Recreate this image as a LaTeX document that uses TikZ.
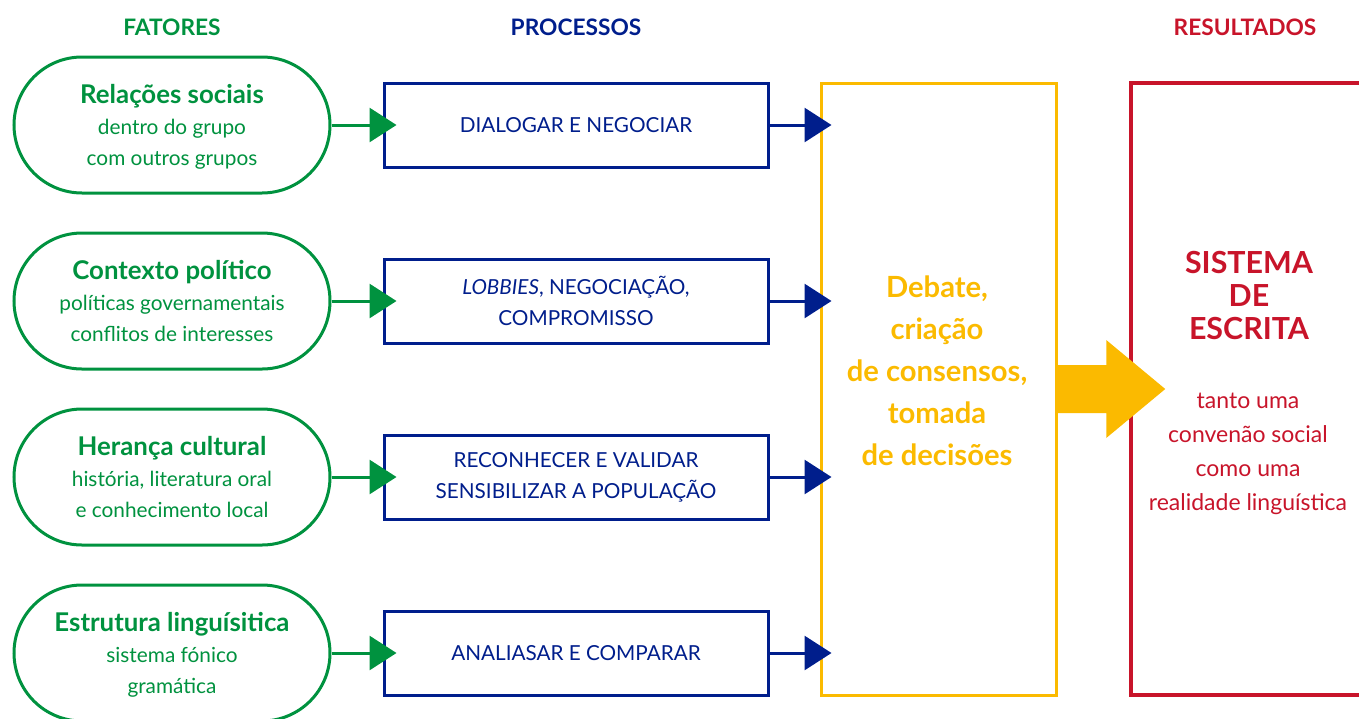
\documentclass[tikz,border=0pt]{standalone}
\usepackage{fontspec}
\setmainfont{Lato}
\usetikzlibrary{positioning,arrows.meta,calc}
\definecolor{fgreen}{RGB}{0,146,63}
\definecolor{pblue}{RGB}{0,30,140}
\definecolor{dyellow}{RGB}{251,186,0}
\definecolor{rred}{RGB}{200,20,42}
\newcommand\ftitfont{\fontsize{12.9}{15.5}\selectfont\bfseries}

\begin{document}
\begin{tikzpicture}[
    x=0.5pt, y=-0.5pt,
    head/.style={font=\fontsize{11.35}{13}\selectfont\bfseries},
    fator/.style={draw=fgreen, line width=1.5pt, rounded corners=34pt, fill=white,
                  minimum width=158pt, minimum height=68pt, align=center, inner sep=0pt,
                  text depth=0pt, text=fgreen, font=\fontsize{10.4}{15.5}\selectfont},
    proc/.style={draw=pblue, line width=1.5pt, fill=white, minimum width=192pt,
                 minimum height=42pt, align=center, inner sep=0pt,
                 text=pblue, font=\fontsize{10.35}{15.5}\selectfont},
    debbox/.style={draw=dyellow, line width=1.5pt, minimum width=117.5pt, minimum height=306pt},
    resbox/.style={draw=rred, line width=1.75pt, minimum width=134.5pt, minimum height=306pt},
    gflow/.style={draw=fgreen, line width=1.5pt, -{Triangle[length=13.5pt,width=17pt]}},
    bflow/.style={draw=pblue, line width=1.5pt, -{Triangle[length=13.5pt,width=17pt]}},
]
\useasboundingbox (0,0) rectangle (1359,718);
\clip (0,0) rectangle (1359,718);

% column headings
\node[head, text=fgreen] (hfat) at (172,27) {FATORES};
\node[head, text=pblue] (hproc) at (576,27) {PROCESSOS};
\node[head, text=rred] (hres) at (1245,27) {RESULTADOS};

% fatores
\node[fator] (f1) at (172,125) {{\ftitfont Relações sociais}\\dentro do grupo\\com outros grupos};
\node[fator] (f2) at (172,301) {{\ftitfont Contexto político}\\políticas governamentais\\conflitos de interesses};
\node[fator] (f3) at (172,477) {{\ftitfont Herança cultural}\\história, literatura oral\\e conhecimento local};
\node[fator] (f4) at (172,653) {{\ftitfont Estrutura linguísitica}\\sistema fónico\\gramática};

% processos
\node[proc, right=25.5pt of f1] (p1) {DIALOGAR E NEGOCIAR};
\node[proc, right=25.5pt of f2] (p2) {\textit{LOBBIES}, NEGOCIAÇÃO,\\COMPROMISSO};
\node[proc, right=25.5pt of f3] (p3) {RECONHECER E VALIDAR\\SENSIBILIZAR A POPULAÇÃO};
\node[proc, right=25.5pt of f4] (p4) {ANALIASAR E COMPARAR};

\draw[gflow] (f1.east) -- ($(p1.west)+(14,0)$);
\draw[gflow] (f2.east) -- ($(p2.west)+(14,0)$);
\draw[gflow] (f3.east) -- ($(p3.west)+(14,0)$);
\draw[gflow] (f4.east) -- ($(p4.west)+(14,0)$);

% debate
\node[debbox] (deb) at (938.5,389) {};
\node[align=center, text=dyellow, font=\fontsize{14.6}{21}\selectfont\bfseries] (debtxt) at (937,371)
    {Debate,\\criação\\de consensos,\\tomada\\de decisões};

\draw[bflow] (p1.east) -- ($(p1.east -| deb.west)+(12,0)$);
\draw[bflow] (p2.east) -- ($(p2.east -| deb.west)+(12,0)$);
\draw[bflow] (p3.east) -- ($(p3.east -| deb.west)+(12,0)$);
\draw[bflow] (p4.east) -- ($(p4.east -| deb.west)+(12,0)$);

% resultados
\node[resbox] (res) at (1265.5,389) {};
\node[align=center, text=rred, font=\fontsize{15.2}{16.5}\selectfont\bfseries] (restit) at (1249,296)
    {SISTEMA\\DE\\ESCRITA};
\node[align=center, text=rred, font=\fontsize{11.5}{17}\selectfont] (ressub) at (1248,453.5)
    {tanto uma\\convenão social\\como uma\\realidade linguística};

\fill[dyellow] ($(deb.east)+(0,-24)$) -- ($(res.west)+(-23,-24)$) -- ($(res.west)+(-23,-49)$)
    -- ($(res.west)+(36,0)$) -- ($(res.west)+(-23,49)$) -- ($(res.west)+(-23,24)$)
    -- ($(deb.east)+(0,24)$) -- cycle;
\end{tikzpicture}
\end{document}
